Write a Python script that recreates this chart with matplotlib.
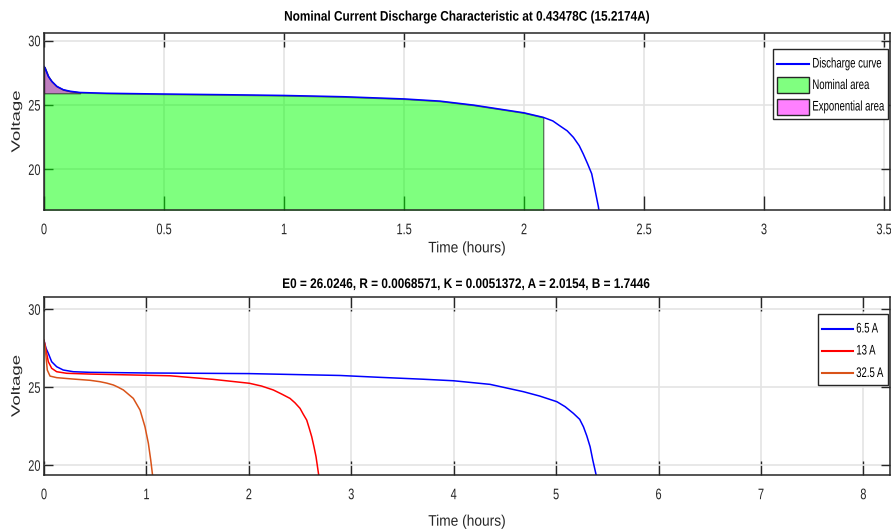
import numpy as np
import matplotlib
matplotlib.use("Agg")
import matplotlib.pyplot as plt
from matplotlib.lines import Line2D
from matplotlib.patches import Rectangle
from matplotlib.patheffects import AbstractPathEffect
from matplotlib.transforms import Affine2D

# --- nominal current discharge (15.2174 A) ---
nom_t = [0, 0.004, 0.018, 0.032, 0.053, 0.08, 0.108, 0.15, 0.26, 0.5, 0.75, 1.0,
         1.25, 1.5, 1.65, 1.79, 1.93, 2.0, 2.08, 2.12, 2.15, 2.18, 2.206, 2.23, 2.247,
         2.265, 2.282, 2.295, 2.31, 2.315]
nom_v = [28.0, 27.88, 27.23, 26.85, 26.46, 26.2, 26.08, 25.98, 25.92, 25.86, 25.81, 25.75,
         25.65, 25.48, 25.31, 25.0, 24.6, 24.4, 24.05, 23.77, 23.38, 23.0, 22.49, 21.85, 21.2,
         20.44, 19.67, 18.5, 17.1, 16.5]
T_EXP = 0.15
T_NOM = 2.08
V_EXP = 25.92

# --- discharge at several currents ---
labels = ["6.5 A", "13 A", "32.5 A"]
t_65 = [0, 0.02, 0.042, 0.075, 0.124, 0.188, 0.286, 0.45, 1.0, 2.0, 2.89, 3.28, 3.7,
        4.0, 4.355, 4.681, 4.84, 5.007, 5.088, 5.169, 5.23, 5.267, 5.3, 5.332, 5.358,
        5.391, 5.40]
v_65 = [28.0, 27.5, 27.18, 26.64, 26.32, 26.11, 26.0, 25.96, 25.92, 25.88, 25.76, 25.64,
        25.52, 25.42, 25.19, 24.72, 24.44, 24.08, 23.76, 23.33, 22.95, 22.47, 21.88, 21.19,
        20.34, 19.38, 19.0]
t_13 = [0, 0.01, 0.026, 0.042, 0.075, 0.124, 0.221, 0.45, 1.23, 1.653, 2.005, 2.125,
        2.239, 2.32, 2.402, 2.45, 2.5, 2.53, 2.565, 2.59, 2.614, 2.636, 2.656, 2.682, 2.69]
v_13 = [28.0, 27.7, 27.18, 26.64, 26.22, 26.0, 25.9, 25.85, 25.74, 25.51, 25.26, 25.08,
        24.83, 24.57, 24.29, 24.01, 23.65, 23.29, 22.9, 22.37, 21.83, 21.19, 20.55, 19.38, 19.0]
t_325 = [0, 0.01, 0.02, 0.032, 0.059, 0.124, 0.286, 0.45, 0.547, 0.612, 0.677, 0.72, 0.775,
         0.872, 0.938, 0.986, 1.019, 1.042, 1.061, 1.066]
v_325 = [28.0, 27.6, 26.96, 26.11, 25.72, 25.62, 25.53, 25.45, 25.36, 25.27, 25.15, 25.02,
         24.83, 24.29, 23.54, 22.47, 21.41, 20.34, 19.31, 19.0]
colors = ["#0000ff", "#ff0000", "#d95319"]

W, H = 891, 532
INK = "#262626"
plt.rcParams["font.family"] = ["Liberation Sans", "DejaVu Sans"]
plt.rcParams["axes.edgecolor"] = INK
plt.rcParams["xtick.color"] = INK
plt.rcParams["ytick.color"] = INK


class Squeeze(AbstractPathEffect):
    """Narrow the glyphs horizontally around the left, centre or right of the ink."""

    def __init__(self, sx, anchor="center"):
        super().__init__()
        self.sx = sx
        self.anchor = anchor

    def draw_path(self, renderer, gc, tpath, affine, rgbFace=None):
        ext = tpath.transformed(affine).get_extents()
        x0 = {"left": ext.x0, "right": ext.x1}.get(self.anchor, 0.5 * (ext.x0 + ext.x1))
        sq = Affine2D().translate(-x0, 0).scale(self.sx, 1).translate(x0, 0)
        renderer.draw_path(gc, tpath, affine + sq, rgbFace)


def fig_xy(x, y):
    return x / W, 1 - y / H


def style_axes(ax, xlabelpad):
    ax.grid(True, color="#e4e4e4", linewidth=1.2)
    ax.set_axisbelow(True)
    for s in ax.spines.values():
        s.set_linewidth(1.1)
    ax.tick_params(axis="x", direction="in", length=10, width=1.0, top=True,
                   labelsize=11, pad=9.5)
    ax.tick_params(axis="y", direction="in", length=6.5, width=1.0, right=True,
                   labelsize=11, pad=2.4)
    for lab in ax.get_xticklabels():
        lab.set_path_effects([Squeeze(0.72)])
    for lab in ax.get_yticklabels():
        lab.set_path_effects([Squeeze(0.72, "right")])
    xl = ax.set_xlabel("Time (hours)", fontsize=11, color=INK, labelpad=xlabelpad)
    xl.set_path_effects([Squeeze(0.9)])
    yl = ax.set_ylabel("Voltage", fontsize=13.4, color=INK)
    yl.set_path_effects([Squeeze(0.65)])
    ax.yaxis.set_label_coords(-0.022, 0.5)


def draw_legend(frame, rows, text_x):
    # frame = (x0, y0, x1, y1) in pixels from the top-left corner
    x0, y0, x1, y1 = frame
    fx, fy = fig_xy(x0, y1)
    fig.add_artist(Rectangle((fx, fy), (x1 - x0) / W, (y1 - y0) / H,
                             transform=fig.transFigure, facecolor="white",
                             edgecolor=INK, linewidth=1.0, zorder=5))
    for kind, color, label, hx0, hx1, yc in rows:
        if kind == "line":
            a, b = fig_xy(hx0, yc)
            c, _ = fig_xy(hx1, yc)
            fig.add_artist(Line2D([a, c], [b, b], transform=fig.transFigure,
                                  color=color, linewidth=1.5, zorder=6))
        else:
            a, b = fig_xy(hx0, yc + 8)
            fig.add_artist(Rectangle((a, b), (hx1 - hx0) / W, 16 / H,
                                     transform=fig.transFigure, facecolor=color,
                                     edgecolor=INK, linewidth=1.0, zorder=6))
        tx, ty = fig_xy(text_x, yc)
        t = fig.text(tx, ty, label, fontsize=10, color="black", ha="left",
                     va="center", zorder=7)
        t.set_path_effects([Squeeze(0.69, "left")])


fig = plt.figure(figsize=(W / 100, H / 100), dpi=100)
ax1 = fig.add_axes([44 / W, 1 - 210 / H, 846 / W, 177 / H])
ax2 = fig.add_axes([44 / W, 1 - 475 / H, 846 / W, 178 / H])

# top: nominal curve with nominal / exponential zones
t = np.array(nom_t)
v = np.array(nom_v)
m_nom = t <= T_NOM
ax1.fill_between(t[m_nom], 0, v[m_nom], facecolor=(0, 1, 0, 0.5),
                 edgecolor=(0, 0, 0, 0.5), linewidth=1.0)
m_exp = t <= T_EXP
ax1.fill_between(t[m_exp], V_EXP, v[m_exp], facecolor=(1, 0, 1, 0.5),
                 edgecolor=(0, 0, 0, 0.5), linewidth=1.0)
ax1.plot(t, v, color="#0000ff", linewidth=1.1)
ax1.set_xlim(0, 3.525)
ax1.set_ylim(16.85, 30.6)
ax1.set_xticks([0, 0.5, 1, 1.5, 2, 2.5, 3, 3.5])
ax1.set_xticklabels(["0", "0.5", "1", "1.5", "2", "2.5", "3", "3.5"])
ax1.set_yticks([20, 25, 30])
style_axes(ax1, 3)
title1 = ax1.set_title("Nominal Current Discharge Characteristic at 0.43478C (15.2174A)",
                       fontsize=10, fontweight="bold", pad=8.9)
title1.set_path_effects([Squeeze(0.85)])
draw_legend((773, 49, 888, 119),
            [("line", "#0000ff", "Discharge curve", 777, 809, 63.5),
             ("patch", "#80ff80", "Nominal area", 777, 809, 85),
             ("patch", "#ff80ff", "Exponential area", 777, 809, 106.5)],
            text_x=812)

# bottom: curves at different currents
for tt, vv, c, lab in zip([t_65, t_13, t_325], [v_65, v_13, v_325], colors, labels):
    ax2.plot(tt, vv, color=c, linewidth=1.1, label=lab)
ax2.set_xlim(0, 8.26)
ax2.set_ylim(19.38, 30.79)
ax2.set_xticks(range(9))
ax2.set_yticks([20, 25, 30])
style_axes(ax2, 9)
title2 = ax2.set_title("E0 = 26.0246, R = 0.0068571, K = 0.0051372, A = 2.0154, B = 1.7446",
                       fontsize=10, fontweight="bold", pad=6.5)
title2.set_path_effects([Squeeze(0.85)])
draw_legend((818, 314, 888, 385),
            [("line", c, lab, 822, 853, yc)
             for c, lab, yc in zip(colors, labels, [328.5, 350.5, 373])],
            text_x=856)

fig.savefig("out.png", dpi=100)
